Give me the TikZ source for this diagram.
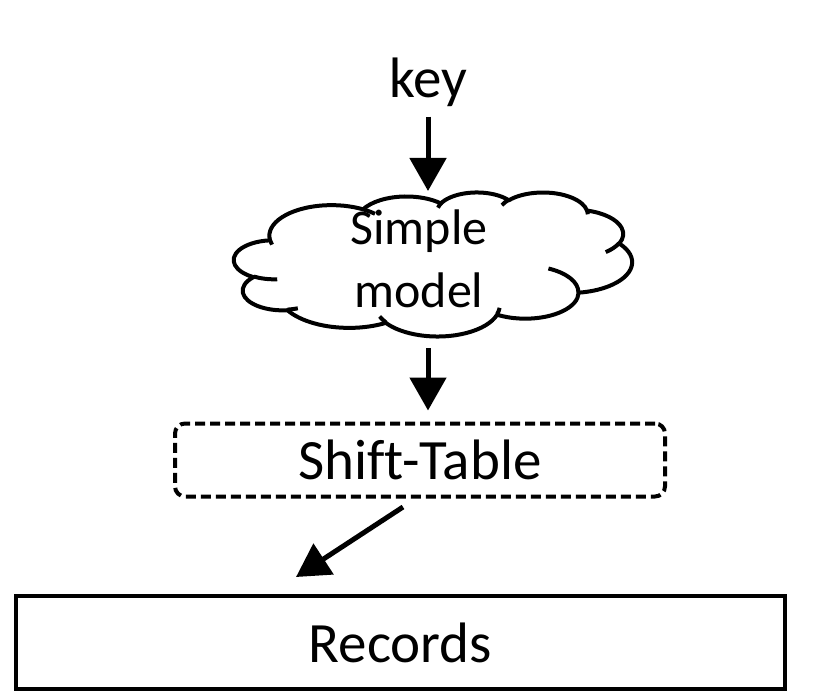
\documentclass[tikz,border=0pt]{standalone}
\usepackage{fontspec}
\setmainfont{Carlito}[Ligatures=NoCommon]
\usetikzlibrary{arrows.meta}

\begin{document}
\begin{tikzpicture}[x=1pt,y=-1pt,
    arr/.style={line width=5pt, -{Triangle[width=36pt,length=33pt]}},
    bigtext/.style={font=\fontsize{57}{60}\selectfont, inner sep=0pt}]
      \useasboundingbox (0,0) rectangle (830,698);

      % Cloud outline (arcs given by their visual angles)
      \begin{scope}[xshift=234pt, yshift=-192pt, x=0.9213pt, y=-0.3333pt,
                    line width=4pt, line join=round]
        \draw (39,143.7)
          \foreach \wr/\hr/\st/\sw
            [evaluate=\st as \ta using {atan2(\wr*sin(\st),\hr*cos(\st))},
             evaluate=\st as \td using {mod(atan2(\wr*sin(\st+\sw),\hr*cos(\st+\sw))-atan2(\wr*sin(\st),\hr*cos(\st))+720,360)}]
          in {67.53/91.90/-190.4875/123.7805, 53.33/72.67/-144.1024/89.9452,
              43.65/59.45/-145.8079/99.7230, 48.57/65.95/-130.9861/117.2417,
              53.33/72.73/-78.7089/109.0269, 67.75/92.20/-46.2673/130.2690,
              57.85/78.67/0.6250/114.0333, 67.52/92.15/22.4516/115.1726,
              77.20/105.43/66.2426/75.7110, 43.60/59.18/-274.9421/146.7356,
              43.45/59.45/-246.8285/152.5189}
          { arc[start angle=\ta, delta angle=\td, x radius=\wr, y radius=\hr] } -- cycle;
        % inner folds
        \foreach \px/\py/\wr/\hr/\st/\sw
            [evaluate=\st as \ta using {atan2(\wr*sin(\st),\hr*cos(\st))},
             evaluate=\st as \td using {mod(atan2(\wr*sin(\st+\sw),\hr*cos(\st+\sw))-atan2(\wr*sin(\st),\hr*cos(\st))+720,360)}]
          in {46.93/261.77/43.45/59.45/86.7420/26.4295,
              69.28/348.99/43.60/59.18/73.6105/11.4475,
              164.78/390.90/67.52/92.15/137.6242/14.0811,
              288.27/347.51/67.52/92.15/6.4533/15.9984,
              341.29/229.54/57.85/78.67/-70.2924/70.9174,
              417.98/153.54/53.33/72.73/30.3180/27.7515,
              383.24/54.26/48.57/65.95/-13.7443/14.8589,
              290.78/39.52/48.57/65.95/-149.1815/18.1954,
              221.41/47.20/43.65/59.45/-163.4943/17.6864,
              140.00/51.92/67.53/91.90/-66.7070/12.3194,
              41.27/157.89/67.53/91.90/157.6544/11.8582}
          \draw (\px,\py) arc[start angle=\ta, delta angle=\td, x radius=\wr, y radius=\hr];
      \end{scope}

      % Nodes
      \node[bigtext] (key) at (428,82) {key};
      \node[font=\fontsize{50}{63}\selectfont, align=center, inner sep=0pt]
            (model) at (419,259) {Simple\\model};
      \node[draw, dash pattern=on 10pt off 5pt, rounded corners=10pt,
            line width=4pt, minimum width=490pt, minimum height=73pt,
            bigtext] (shift) at (420,460) {Shift-Table};
      \node[draw, line width=3.5pt, minimum width=769pt, minimum height=93pt,
            bigtext] (records) at (400.4,642.5) {Records};

      \coordinate (cloudtop) at (428,191);
      \coordinate (cloudbot) at (428,348);
      \coordinate (from) at (403,507);
      \coordinate (to) at (296,577);

      % Arrows
      \draw[arr, shorten <=10pt] (key.south) -- (cloudtop);
      \draw[arr, shorten >=11pt] (cloudbot) -- (cloudbot |- shift.north);
      \draw[arr] (from) -- (to);
    \end{tikzpicture}
\end{document}
